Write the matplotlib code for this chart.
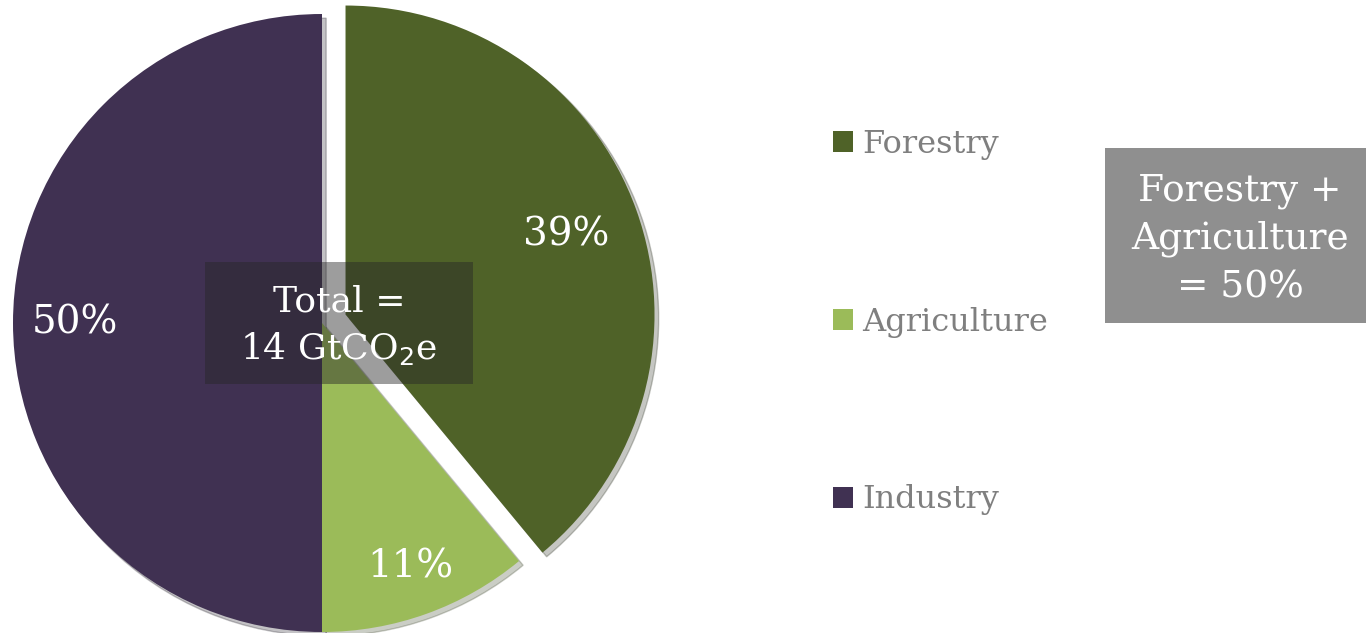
import numpy as np
import matplotlib.pyplot as plt
from matplotlib.patches import Rectangle

# Share of emissions, 14 GtCO2e total
sectors = ["Forestry", "Agriculture", "Industry"]
shares = [39, 11, 50]
colors = ["#4F6228", "#9BBB59", "#403152"]

plt.rcParams["font.family"] = ["DejaVu Serif"]

W, H = 1366, 633
fig = plt.figure(figsize=(W / 100, H / 100), dpi=100)
ax = fig.add_axes([0, 0, 1, 1])

R = 309
cx, cy = 322, H - 323
# pie drawn in pixel coordinates so position/size match the layout
# (explode is in data units here, i.e. pixels)
wedges, texts, autotexts = ax.pie(
    shares,
    colors=colors,
    explode=[25, 0, 0],
    startangle=90,
    counterclock=False,
    center=(cx, cy),
    radius=R,
    autopct="%d%%",
    pctdistance=0.79,
    textprops={"color": "white", "fontsize": 28},
    shadow={"ox": 3, "oy": -3, "alpha": 0.25},
)

# nudge percentage labels a bit per wedge
label_dist = [0.76, 0.84, 0.80]
for w, t, d in zip(wedges, autotexts, label_dist):
    ang = np.deg2rad((w.theta1 + w.theta2) / 2)
    x0, y0 = w.center
    t.set_position((x0 + d * R * np.cos(ang), y0 + d * R * np.sin(ang)))

ax.set_xlim(0, W)
ax.set_ylim(0, H)
ax.set_aspect("auto")
ax.axis("off")

# total box in the middle of the pie
fig.patches.append(Rectangle((205 / W, 1 - 384 / H), 268 / W, 122 / H,
                             transform=fig.transFigure, facecolor="#262626",
                             edgecolor="none", alpha=0.45, zorder=3))
fig.text(339 / W, 1 - 326 / H, "Total =\n14 GtCO$_2$e",
         ha="center", va="center", color="white", fontsize=26, linespacing=1.4,
         zorder=4)

leg = ax.legend(
    wedges, sectors,
    loc="center left",
    bbox_to_anchor=(817 / W, 1 - 322 / H),
    bbox_transform=fig.transFigure,
    frameon=False,
    fontsize=23,
    labelcolor="#7F7F7F",
    handlelength=0.62,
    handleheight=0.62,
    handletextpad=0.3,
    labelspacing=4.6,
    borderpad=0,
)

# summary box on the right
fig.patches.append(Rectangle((1105 / W, 1 - 323 / H), 261 / W, 175 / H,
                             transform=fig.transFigure, facecolor="#8F8F8F",
                             edgecolor="none"))
fig.text(1240 / W, 1 - 239 / H, "Forestry +\nAgriculture\n= 50%",
         ha="center", va="center", color="white", fontsize=27, linespacing=1.42)

fig.savefig("out.png", dpi=100)
